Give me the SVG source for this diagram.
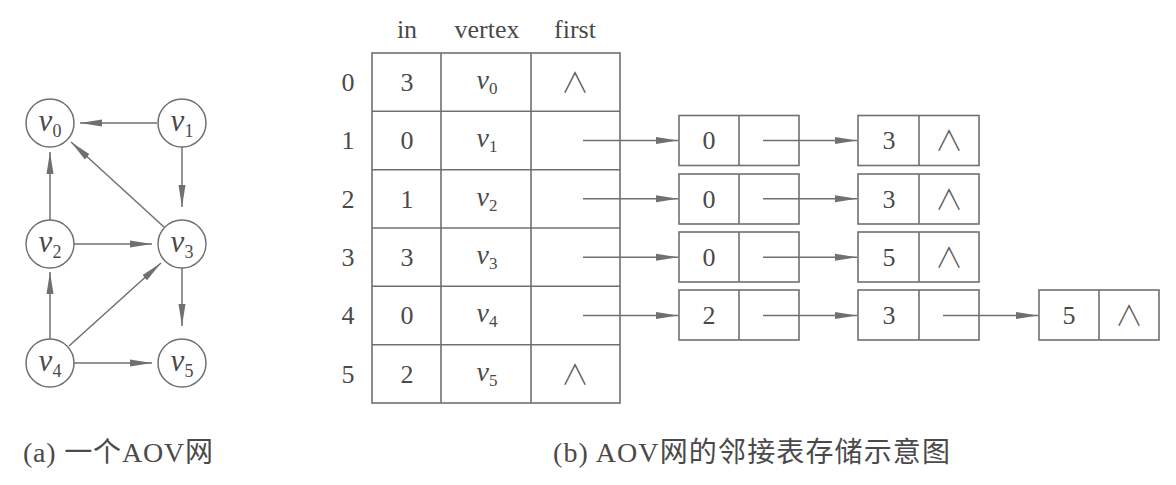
<svg xmlns="http://www.w3.org/2000/svg" width="1176" height="485" viewBox="0 0 1176 485">
<style>
.ln{stroke:#707070;stroke-width:1.5;fill:none}
.bx{stroke:#707070;stroke-width:1.6;fill:none}
.nd{stroke:#707070;stroke-width:1.5;fill:#fff}
.t{font-family:"Liberation Serif","Times New Roman",serif;font-size:26px;fill:#4a4a4a;text-anchor:middle}
.v{font-family:"Liberation Serif","Times New Roman",serif;font-style:italic;font-size:28px;fill:#4a4a4a;text-anchor:middle}
.gv{font-family:"Liberation Serif","Times New Roman",serif;font-style:italic;font-size:31px;fill:#4a4a4a;text-anchor:middle}
.nil{font-family:"Noto Sans CJK SC",sans-serif;font-weight:300;font-size:28px;fill:#5a5a5a;text-anchor:middle}
.cap{font-family:"Liberation Serif","Noto Sans CJK SC",serif;font-size:28px;fill:#4a4a4a}
</style>
<defs>
<marker id="ah" markerUnits="userSpaceOnUse" markerWidth="24" markerHeight="10" refX="22" refY="4" orient="auto">
<path d="M0,0.5 L22,4 L0,7.5 z" fill="#707070"/>
</marker>
</defs>
<rect width="1176" height="485" fill="#fff"/>

<g id="connectors">
<line class="ln" x1="157" y1="123" x2="80" y2="123" marker-end="url(#ah)"/>
<line class="ln" x1="182" y1="147" x2="182" y2="207" marker-end="url(#ah)"/>
<line class="ln" x1="164" y1="227" x2="71" y2="142" marker-end="url(#ah)"/>
<line class="ln" x1="50" y1="220" x2="50" y2="152" marker-end="url(#ah)"/>
<line class="ln" x1="74" y1="244" x2="152" y2="244" marker-end="url(#ah)"/>
<line class="ln" x1="50" y1="339" x2="50" y2="272" marker-end="url(#ah)"/>
<line class="ln" x1="69" y1="346" x2="161" y2="263" marker-end="url(#ah)"/>
<line class="ln" x1="74" y1="363" x2="152" y2="363" marker-end="url(#ah)"/>
<line class="ln" x1="182" y1="268" x2="182" y2="326" marker-end="url(#ah)"/>

<line class="ln" x1="583" y1="140.5" x2="678" y2="140.5" marker-end="url(#ah)"/>
<line class="ln" x1="583" y1="198.8" x2="678" y2="198.8" marker-end="url(#ah)"/>
<line class="ln" x1="583" y1="257.2" x2="678" y2="257.2" marker-end="url(#ah)"/>
<line class="ln" x1="583" y1="315.5" x2="678" y2="315.5" marker-end="url(#ah)"/>
<line class="ln" x1="763" y1="140.5" x2="857" y2="140.5" marker-end="url(#ah)"/>
<line class="ln" x1="763" y1="198.8" x2="857" y2="198.8" marker-end="url(#ah)"/>
<line class="ln" x1="763" y1="257.2" x2="857" y2="257.2" marker-end="url(#ah)"/>
<line class="ln" x1="763" y1="315.5" x2="857" y2="315.5" marker-end="url(#ah)"/>
<line class="ln" x1="943" y1="315.5" x2="1038" y2="315.5" marker-end="url(#ah)"/>
</g>

<g id="v0"><circle class="nd" cx="50" cy="123" r="24"/><text class="gv" x="50" y="131">v<tspan font-size="18" font-style="normal" dy="6">0</tspan></text></g>
<g id="v1"><circle class="nd" cx="182" cy="123" r="24"/><text class="gv" x="182" y="131">v<tspan font-size="18" font-style="normal" dy="6">1</tspan></text></g>
<g id="v2"><circle class="nd" cx="50" cy="244" r="24"/><text class="gv" x="50" y="252">v<tspan font-size="18" font-style="normal" dy="6">2</tspan></text></g>
<g id="v3"><circle class="nd" cx="182" cy="244" r="24"/><text class="gv" x="182" y="252">v<tspan font-size="18" font-style="normal" dy="6">3</tspan></text></g>
<g id="v4"><circle class="nd" cx="50" cy="363" r="24"/><text class="gv" x="50" y="371">v<tspan font-size="18" font-style="normal" dy="6">4</tspan></text></g>
<g id="v5"><circle class="nd" cx="182" cy="363" r="24"/><text class="gv" x="182" y="371">v<tspan font-size="18" font-style="normal" dy="6">5</tspan></text></g>

<g id="caption-a"><text class="cap" x="23" y="462" textLength="190" lengthAdjust="spacing">(a) 一个AOV网</text></g>

<g id="table">
<text class="t" x="407" y="38">in</text>
<text class="t" x="487" y="38">vertex</text>
<text class="t" x="575" y="38">first</text>
<rect class="bx" x="372" y="53" width="248" height="350"/>
<line class="bx" x1="441" y1="53" x2="441" y2="403"/>
<line class="bx" x1="531" y1="53" x2="531" y2="403"/>
<line class="bx" x1="372" y1="111.3" x2="620" y2="111.3"/>
<line class="bx" x1="372" y1="169.7" x2="620" y2="169.7"/>
<line class="bx" x1="372" y1="228" x2="620" y2="228"/>
<line class="bx" x1="372" y1="286.3" x2="620" y2="286.3"/>
<line class="bx" x1="372" y1="344.7" x2="620" y2="344.7"/>
<text class="t" x="348" y="91">0</text><text class="t" x="348" y="149">1</text><text class="t" x="348" y="208">2</text><text class="t" x="348" y="266">3</text><text class="t" x="348" y="324">4</text><text class="t" x="348" y="383">5</text>
<text class="t" x="407" y="91">3</text><text class="t" x="407" y="149">0</text><text class="t" x="407" y="208">1</text><text class="t" x="407" y="266">3</text><text class="t" x="407" y="324">0</text><text class="t" x="407" y="383">2</text>
<text class="v" x="487" y="89">v<tspan font-size="17" font-style="normal" dy="5">0</tspan></text>
<text class="v" x="487" y="147">v<tspan font-size="17" font-style="normal" dy="5">1</tspan></text>
<text class="v" x="487" y="206">v<tspan font-size="17" font-style="normal" dy="5">2</tspan></text>
<text class="v" x="487" y="264">v<tspan font-size="17" font-style="normal" dy="5">3</tspan></text>
<text class="v" x="487" y="322">v<tspan font-size="17" font-style="normal" dy="5">4</tspan></text>
<text class="v" x="487" y="381">v<tspan font-size="17" font-style="normal" dy="5">5</tspan></text>
<text class="nil" x="575" y="93">∧</text>
<text class="nil" x="575" y="385">∧</text>
</g>

<g id="n1a"><rect class="bx" x="679" y="115.5" width="120" height="50"/><line class="bx" x1="739" y1="115.5" x2="739" y2="165.5"/><text class="t" x="709" y="149">0</text></g>
<g id="n1b"><rect class="bx" x="858" y="115.5" width="121" height="50"/><line class="bx" x1="919" y1="115.5" x2="919" y2="165.5"/><text class="t" x="889" y="149">3</text><text class="nil" x="949" y="151">∧</text></g>
<g id="n2a"><rect class="bx" x="679" y="174" width="120" height="50"/><line class="bx" x1="739" y1="174" x2="739" y2="224"/><text class="t" x="709" y="208">0</text></g>
<g id="n2b"><rect class="bx" x="858" y="174" width="121" height="50"/><line class="bx" x1="919" y1="174" x2="919" y2="224"/><text class="t" x="889" y="208">3</text><text class="nil" x="949" y="210">∧</text></g>
<g id="n3a"><rect class="bx" x="679" y="232" width="120" height="50"/><line class="bx" x1="739" y1="232" x2="739" y2="282"/><text class="t" x="709" y="266">0</text></g>
<g id="n3b"><rect class="bx" x="858" y="232" width="121" height="50"/><line class="bx" x1="919" y1="232" x2="919" y2="282"/><text class="t" x="889" y="266">5</text><text class="nil" x="949" y="268">∧</text></g>
<g id="n4a"><rect class="bx" x="679" y="290" width="120" height="50"/><line class="bx" x1="739" y1="290" x2="739" y2="340"/><text class="t" x="709" y="324">2</text></g>
<g id="n4b"><rect class="bx" x="858" y="290" width="121" height="50"/><line class="bx" x1="919" y1="290" x2="919" y2="340"/><text class="t" x="889" y="324">3</text></g>
<g id="n4c"><rect class="bx" x="1039" y="290" width="120" height="50"/><line class="bx" x1="1099" y1="290" x2="1099" y2="340"/><text class="t" x="1069" y="324">5</text><text class="nil" x="1129" y="326">∧</text></g>

<g id="caption-b"><text class="cap" x="553" y="462" textLength="397" lengthAdjust="spacing">(b) AOV网的邻接表存储示意图</text></g>
</svg>
